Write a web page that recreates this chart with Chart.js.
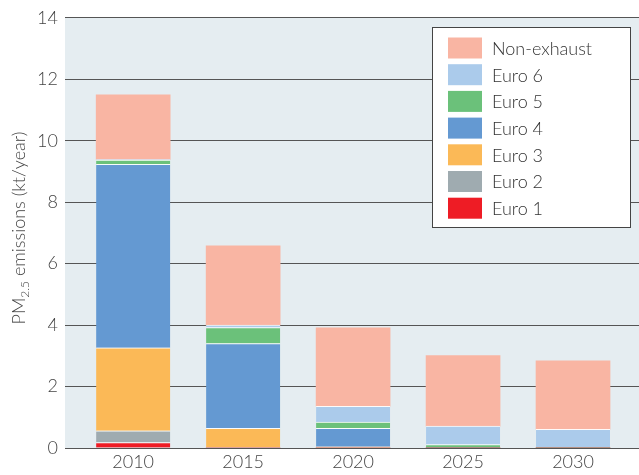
<!DOCTYPE html>
<html>
<head>
<meta charset="utf-8">
<script src="https://cdn.jsdelivr.net/npm/chart.js@4/dist/chart.umd.min.js"></script>
<style>
  html, body { margin: 0; padding: 0; background: #ffffff; }
  #wrap { position: relative; width: 639px; height: 475px; }
  #ytitle {
    position: absolute; left: -132px; top: 217px; width: 300px; height: 22px;
    line-height: 22px; text-align: center; transform: rotate(-90deg);
    font-family: Lato, "Open Sans", sans-serif; font-weight: 300; font-size: 18px; color: #444;
    white-space: nowrap;
  }
  #ytitle sub { font-size: 12px; vertical-align: -4px; line-height: 0; }
</style>
</head>
<body>
<div id="wrap">
  <canvas id="c" width="639" height="475"></canvas>
  <div id="ytitle">PM<sub>2.5</sub> emissions (kt/year)</div>
</div>
<script>
const categories = [2010, 2015, 2020, 2025, 2030];
const seriesNames = ["Euro 1", "Euro 2", "Euro 3", "Euro 4", "Euro 5", "Euro 6", "Non-exhaust"];
const euro1      = [0.18, 0.00, 0.00, 0.00, 0.00];
const euro2      = [0.38, 0.02, 0.00, 0.00, 0.00];
const euro3      = [2.70, 0.62, 0.04, 0.00, 0.00];
const euro4      = [5.97, 2.76, 0.60, 0.01, 0.00];
const euro5      = [0.14, 0.52, 0.20, 0.10, 0.01];
const euro6      = [0.02, 0.08, 0.52, 0.60, 0.60];
const nonExhaust = [2.10, 2.58, 2.55, 2.30, 2.23];
const yTicks = [0, 2, 4, 6, 8, 10, 12, 14];

const seriesValues = [euro1, euro2, euro3, euro4, euro5, euro6, nonExhaust];
const colors = ["#ee1c25", "#9fabb0", "#fbb957", "#6499d2", "#6bc17a", "#abcbeb", "#f9b5a3"];
const FONT = "Lato, 'Open Sans', sans-serif";

const datasets = seriesNames.map((name, i) => ({
  label: name,
  data: categories.map((c, j) => ({ x: c, y: seriesValues[i][j] })),
  backgroundColor: colors[i],
  borderColor: "rgba(255,255,255,0.9)",
  borderWidth: i === seriesNames.length - 1 ? 0 : { top: 1, right: 0, bottom: 0, left: 0 },
  borderSkipped: false,
  barThickness: 74
}));

const bgPlugin = {
  id: "bg",
  beforeDraw(chart) {
    const { ctx, chartArea: a } = chart;
    ctx.save();
    ctx.fillStyle = "#e5edf1";
    ctx.fillRect(a.left, a.top, a.right - a.left, a.bottom - a.top);
    ctx.restore();
  }
};

const legendPlugin = {
  id: "boxLegend",
  afterDraw(chart) {
    const ctx = chart.ctx;
    const x0 = 432.5, y0 = 27.5, w = 198, h = 200;
    ctx.save();
    ctx.fillStyle = "#ffffff";
    ctx.fillRect(x0, y0, w, h);
    ctx.strokeStyle = "#444";
    ctx.lineWidth = 1;
    ctx.strokeRect(x0, y0, w, h);
    const ds = chart.data.datasets.slice().reverse();
    ctx.font = "300 18px " + FONT;
    ctx.textBaseline = "middle";
    ds.forEach((d, i) => {
      const cy = 48 + i * 26.7;
      ctx.fillStyle = d.backgroundColor;
      ctx.fillRect(448, cy - 10.5, 34, 21);
      ctx.fillStyle = "#333";
      ctx.fillText(d.label, 492, cy + 1);
    });
    ctx.restore();
  }
};

new Chart(document.getElementById("c"), {
  type: "bar",
  data: { datasets },
  plugins: [bgPlugin, legendPlugin],
  options: {
    responsive: false,
    animation: false,
    layout: { padding: { top: 16, right: 0, left: 0, bottom: 0 } },
    plugins: { legend: { display: false }, tooltip: { enabled: false } },
    scales: {
      x: {
        type: "linear",
        stacked: true,
        offset: false,
        min: 2006.9,
        max: 2033.0,
        afterBuildTicks(scale) { scale.ticks = categories.map(v => ({ value: v })); },
        afterFit(scale) { scale.height = 27; },
        grid: { display: false, drawTicks: false },
        border: { display: false },
        ticks: {
          padding: 3,
          color: "#444",
          font: { family: FONT, size: 18, weight: "300" },
          callback: v => String(v)
        }
      },
      y: {
        stacked: true,
        min: 0,
        max: 14,
        afterBuildTicks(scale) { scale.ticks = yTicks.map(v => ({ value: v })); },
        afterFit(scale) { scale.width = 65; },
        grid: { color: "#555", lineWidth: 1, drawTicks: false },
        border: { display: false },
        ticks: {
          padding: 7,
          color: "#444",
          font: { family: FONT, size: 18, weight: "300" }
        }
      }
    }
  }
});
</script>
</body>
</html>
